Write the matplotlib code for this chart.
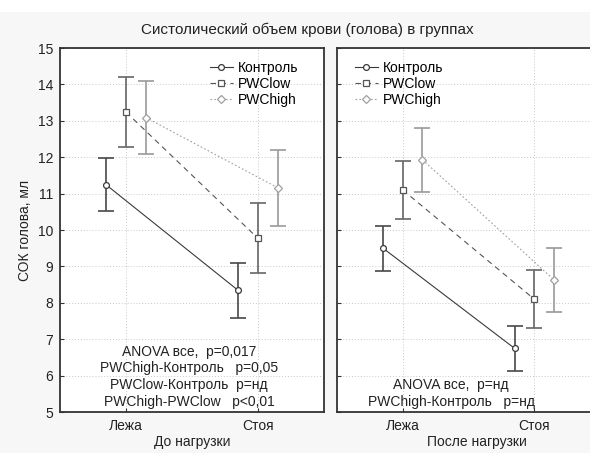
import matplotlib
matplotlib.use("Agg")
import matplotlib.pyplot as plt
import numpy as np

plt.rcParams['font.family'] = ['Liberation Sans', 'DejaVu Sans']
plt.rcParams['font.size'] = 10

# категории и группы
positions = ["Лежа", "Стоя"]
groups = ["Контроль", "PWClow", "PWChigh"]
panel_titles = ["До нагрузки", "После нагрузки"]

# до нагрузки: среднее и полуширина интервала
before_mean = [[11.24, 8.34], [13.24, 9.77], [13.09, 11.16]]
before_err = [[0.73, 0.75], [0.95, 0.96], [1.00, 1.05]]
# после нагрузки
after_mean = [[9.50, 6.75], [11.10, 8.10], [11.93, 8.63]]
after_err = [[0.62, 0.62], [0.79, 0.79], [0.88, 0.88]]

before_notes = ["ANOVA все,  p=0,017", "PWChigh-Контроль   p=0,05",
                "PWClow-Контроль  p=нд", "PWChigh-PWClow   p<0,01"]
after_notes = ["ANOVA все,  p=нд", "PWChigh-Контроль   p=нд"]
note_rows = [6.65, 6.21, 5.74, 5.27]

offsets = [-0.15, 0.0, 0.15]
line_styles = ['-', (0, (5, 4)), (0, (1.5, 2))]
line_colors = ['#3a3a3a', '#555555', '#a0a0a0']
err_colors = ['#484848', '#666666', '#9a9a9a']
markers = ['o', 's', 'D']
marker_sizes = [4.2, 4.2, 3.6]

W, H = 590, 453
fig = plt.figure(figsize=(W / 100, H / 100), dpi=100, facecolor='#f7f7f7')
# белая полоса сверху
fig.patches.append(plt.Rectangle((0, (H - 12) / H), 1, 12 / H, transform=fig.transFigure,
                                 facecolor='white', edgecolor='none', zorder=0))
ax1 = fig.add_axes([60 / W, 41 / H, 264 / W, 364 / H])
ax2 = fig.add_axes([337 / W, 41 / H, 263 / W, 364 / H])

fig.text(307 / W, (H - 30) / H, "Систолический объем крови (голова) в группах",
         ha='center', va='center', fontsize=11, color='#222222')


def draw_panel(ax, means, errs, notes, note_x, xlab, legend_x):
    x = np.arange(len(positions))
    for i, g in enumerate(groups):
        xs = x + offsets[i]
        ax.errorbar(xs, means[i], yerr=errs[i], fmt='none', ecolor=err_colors[i],
                    elinewidth=1.2, capsize=5.5, capthick=1.2, zorder=3)
        ax.plot(xs, means[i], linestyle=line_styles[i], color=line_colors[i],
                lw=0.8, marker=markers[i], ms=marker_sizes[i], mfc='white',
                mec=line_colors[i], mew=0.9, label=g, zorder=4)
    ax.set_xlim(-0.5, 1.5)
    ax.set_ylim(5, 15)
    ax.set_yticks(range(5, 16))
    ax.set_xticks(x)
    ax.set_xticklabels(positions)
    ax.grid(True, linestyle=(0, (1, 2)), color='#c8c8c8', lw=0.7)
    ax.set_axisbelow(True)
    ax.tick_params(direction='in', length=3, width=0.8, colors='#333333',
                   labelcolor='#222222', pad=5)
    for s in ax.spines.values():
        s.set_linewidth(1.3)
        s.set_color('#333333')
    ax.set_xlabel(xlab, color='#222222')
    ys = note_rows[len(note_rows) - len(notes):]
    for t, yy in zip(notes, ys):
        ax.text(note_x, yy, t, ha='center', va='center', color='#222222')
    ax.legend(loc='upper left', bbox_to_anchor=(legend_x, 0.965), frameon=False,
              borderpad=0, borderaxespad=0, handlelength=1.65, handletextpad=0.35,
              labelspacing=0.15)


draw_panel(ax1, before_mean, before_err, before_notes, 0.477, panel_titles[0], 0.568)
draw_panel(ax2, after_mean, after_err, after_notes, 0.367, panel_titles[1], 0.068)
ax2.tick_params(labelleft=False)
ax1.xaxis.set_label_coords(0.5, -0.064)
ax2.xaxis.set_label_coords(0.532, -0.064)
ax1.set_ylabel("СОК голова, мл", labelpad=4, color='#222222')

fig.savefig("out.png", dpi=100, facecolor=fig.get_facecolor())
